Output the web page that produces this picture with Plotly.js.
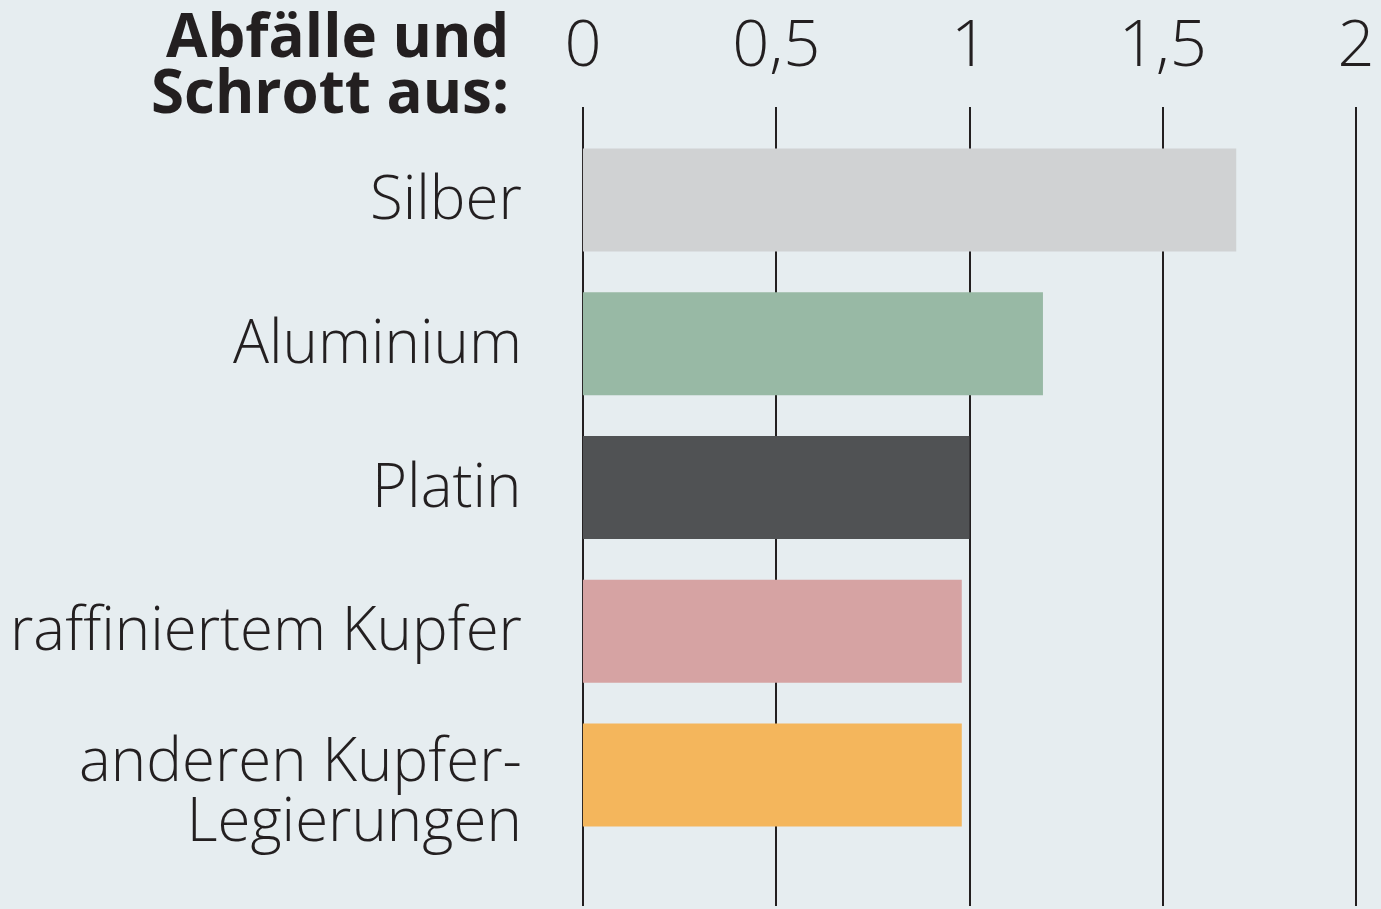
<!DOCTYPE html>
<html><head><meta charset="utf-8">
<script src="https://cdn.plot.ly/plotly-3.0.1.min.js"></script>
<style>html,body{margin:0;padding:0;background:#e6edf0;}#chart{width:1381px;height:909px;}</style>
</head><body><div id="chart"></div>
<script>
const categories = ["Silber", "Aluminium", "Platin", "raffiniertem Kupfer", "anderen Kupfer-<br>Legierungen"];
const values = [1.69, 1.19, 1.0, 0.98, 0.98];
const barColors = ["#d0d2d3", "#98b9a5", "#505254", "#d6a3a3", "#f4b65c"];
const xTickVals = [0, 0.5, 1, 1.5, 2];
const xTickText = ["0", "0,5", "1", "1,5", "2"];
const titleLines = ["Abfälle und", "Schrott aus:"];

const idx = categories.map((c, i) => i);
const bigSpan = s => s.split("<br>").map(p => "<span style='font-size:60px'>" + p + "</span>").join("<br>");

const trace = {
  type: "bar", orientation: "h",
  x: values, y: idx,
  width: 0.716,
  marker: {color: barColors, line: {width: 0}},
  hoverinfo: "skip"
};

const L = 581, R = 23, PW = 1381 - L - R;
const T = 107, B = 3, PH = 909 - T - B;

const catAnnotations = categories.map((c, i) => {
  const lines = c.split("<br>").length;
  return {
    text: bigSpan(c), xref: "paper", yref: "y",
    x: (524 - L) / PW, xanchor: "right",
    y: i, yanchor: "middle",
    yshift: lines > 1 ? -13 : 4,
    align: "right", showarrow: false,
    font: {family: "Open Sans", size: 46, weight: 300, color: "#231f20"}
  };
});

const titleAnnotations = titleLines.map((t, i) => ({
  text: t, xref: "paper", yref: "paper",
  x: (511 - L) / PW, xanchor: "right",
  y: (909 - B - (34 + 56 * i)) / PH, yanchor: "middle",
  showarrow: false,
  font: {family: "Open Sans", size: 60, weight: 700, color: "#231f20"}
}));

const layout = {
  width: 1381, height: 909,
  paper_bgcolor: "#e6edf0", plot_bgcolor: "#e6edf0",
  margin: {l: L, r: R, t: T, b: B, pad: 0},
  showlegend: false,
  font: {family: "Open Sans", color: "#231f20"},
  xaxis: {
    range: [-0.005, 2.005], side: "top", fixedrange: true,
    tickvals: xTickVals, ticktext: xTickText,
    tickfont: {family: "Open Sans", size: 65, weight: 300, color: "#231f20"},
    showgrid: true, gridcolor: "#231f20", gridwidth: 2,
    zeroline: false, showline: false, ticks: "", ticklabelstandoff: 27
  },
  yaxis: {
    range: [4.911, -0.647], fixedrange: true,
    tickvals: idx, showticklabels: false,
    showgrid: false, zeroline: false, showline: false, ticks: ""
  },
  annotations: titleAnnotations.concat(catAnnotations)
};

Plotly.newPlot("chart", [trace], layout, {staticPlot: true, displayModeBar: false});
</script></body></html>
